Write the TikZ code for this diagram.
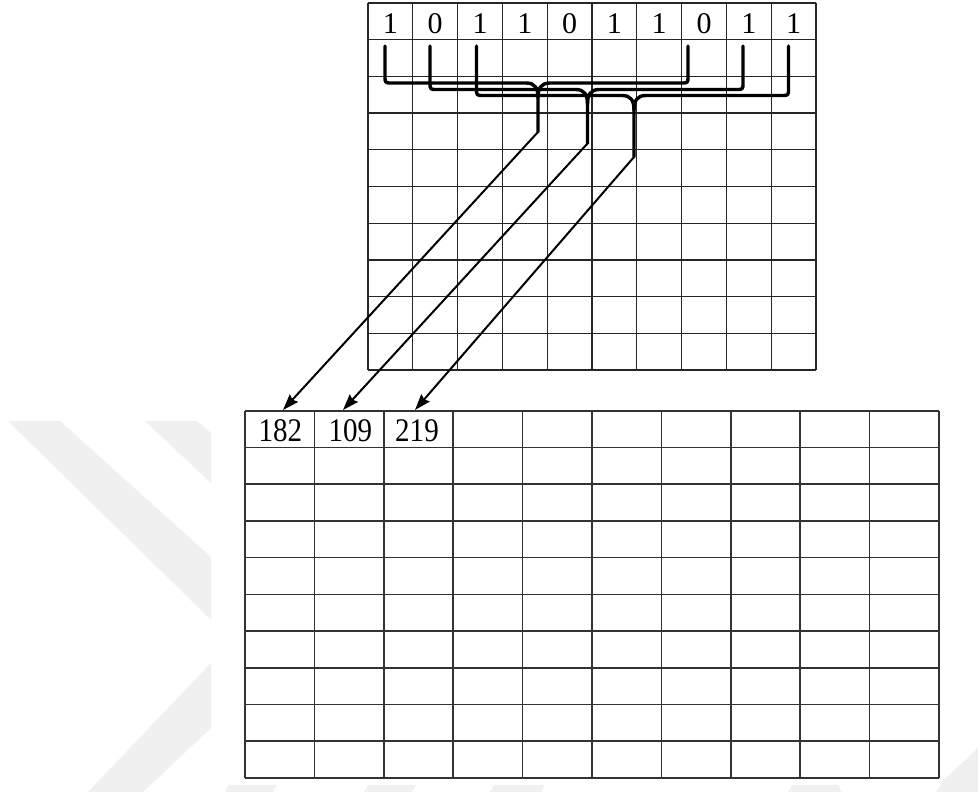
\documentclass[tikz,border=0pt]{standalone}
\usepackage{fontspec}
\setmainfont{Liberation Serif}
\usetikzlibrary{arrows.meta}
\begin{document}
\begin{tikzpicture}[x=1pt,y=-1pt,
  gridline/.style={line width=1.3pt,black!85},
  gridlineb/.style={line width=1.6pt,black!80},
  brace/.style={line width=3.4pt,line cap=round,line join=round},
  link/.style={line width=2pt,-{Stealth[length=16pt,width=11pt,inset=2pt]}},
  wm/.style={fill=black!6,draw=none},
  digit/.style={font=\fontsize{30}{30}\selectfont,anchor=base,inner sep=0pt},
  num/.style={font=\fontsize{33}{33}\selectfont,anchor=base,inner sep=0pt}]
\useasboundingbox (0,0) rectangle (978,792);
\fill[white] (0,0) rectangle (978,792);
% faint watermark
\fill[wm] (8,421) -- (60,421) -- (211,557) -- (211,620) -- cycle;
\fill[wm] (145,421) -- (197,421) -- (211,433) -- (211,483) -- cycle;
\fill[wm] (88,792) -- (143,792) -- (211,728) -- (211,663) -- cycle;
\fill[wm] (229,785) -- (277,785) -- (273,792) -- (225,792) -- cycle;
\fill[wm] (368,785) -- (416,785) -- (412,792) -- (364,792) -- cycle;
\fill[wm] (494,785) -- (545,785) -- (541,792) -- (490,792) -- cycle;
\fill[wm] (792,785) -- (838,785) -- (842,792) -- (788,792) -- cycle;
\fill[wm] (936,792) -- (978,792) -- (978,748) -- (944,780) -- cycle;
% top grid
\foreach \i in {0,...,10} {
  \draw[gridline] ({368+44.8*\i},3) -- ({368+44.8*\i},370);
  \draw[gridline] (368,{3+36.7*\i}) -- (816,{3+36.7*\i});
}
\foreach \d [count=\i from 0] in {1,0,1,1,0,1,1,0,1,1}
  \node[digit] (t\i) at ({368+44.8*\i+22.4},33.3) {\d};
% bottom grid
\foreach \i in {0,...,10} {
  \draw[gridlineb] ({245+69.4*\i},410.7) -- ({245+69.4*\i},778);
  \draw[gridlineb] (245,{410.7+36.73*\i}) -- (939,{410.7+36.73*\i});
}
\node[num] (b0) at (280.3,441.7) {\scalebox{0.88}[1]{182}};
\node[num] (b1) at (350.3,441.7) {\scalebox{0.88}[1]{109}};
\node[num] (b2) at (417,441.7) {\scalebox{0.88}[1]{219}};
% braces
\draw[brace] (385,46) -- (385,76) .. controls (385,83) .. (392,83) -- (526,83)
  .. controls (535,83) and (538,88) .. (538,98) -- (538,132);
\draw[brace] (688,46) -- (688,76) .. controls (688,83) .. (681,83) -- (550,83)
  .. controls (541,83) and (538,88) .. (538,98);
\draw[brace] (430,46) -- (430,82.5) .. controls (430,89.5) .. (437,89.5) -- (575.5,89.5)
  .. controls (584.5,89.5) and (587.5,94.5) .. (587.5,104.5) -- (587.5,143.5);
\draw[brace] (743,46) -- (743,82.5) .. controls (743,89.5) .. (736,89.5) -- (599.5,89.5)
  .. controls (590.5,89.5) and (587.5,94.5) .. (587.5,104.5);
\draw[brace] (476.5,46) -- (476.5,88.5) .. controls (476.5,95.5) .. (483.5,95.5) -- (622,95.5)
  .. controls (631,95.5) and (634,100.5) .. (634,110.5) -- (634,157);
\draw[brace] (788.5,46) -- (788.5,88.5) .. controls (788.5,95.5) .. (781.5,95.5) -- (646,95.5)
  .. controls (637,95.5) and (634,100.5) .. (634,110.5);
% connectors
\coordinate (p1) at (538,132);
\coordinate (p2) at (587.5,143.5);
\coordinate (p3) at (634,157);
\coordinate (e1) at (283,410);
\coordinate (e2) at (343,410);
\coordinate (e3) at (415,410);
\draw[link] (p1) -- (e1);
\draw[link] (p2) -- (e2);
\draw[link] (p3) -- (e3);
\end{tikzpicture}
\end{document}
